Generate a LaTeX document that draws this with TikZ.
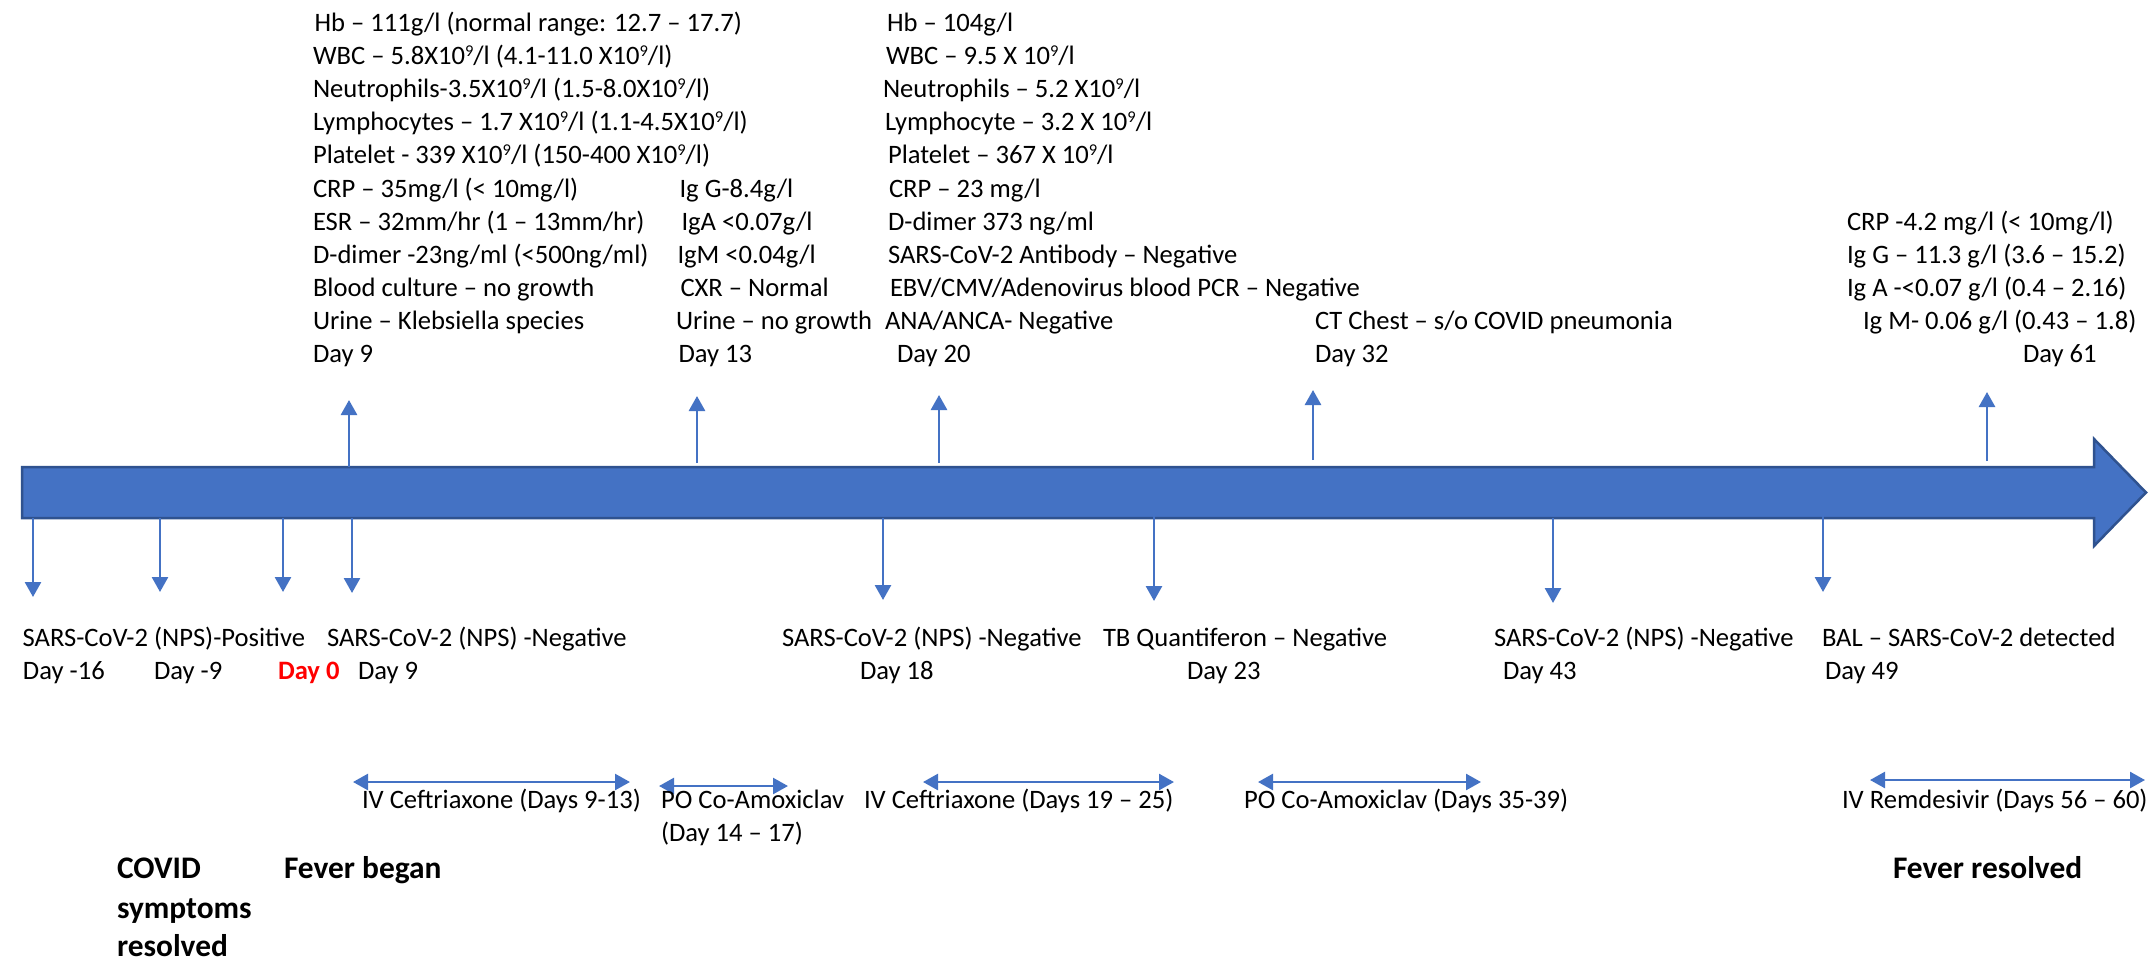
\documentclass[tikz,border=0pt]{standalone}
\usepackage{fontspec}
\setmainfont{Carlito}
\usetikzlibrary{arrows.meta}
\definecolor{tlblue}{HTML}{4472C4}
\definecolor{tledge}{HTML}{2F528F}
\definecolor{tlred}{HTML}{FF0000}
\newcommand{\regfont}{\fontsize{26.6}{33}\selectfont}
\newcommand{\boldfont}{\fontsize{31.4}{39}\selectfont\bfseries}
\newcommand{\sq}{\raisebox{8.5pt}{\fontsize{16.5}{16.5}\selectfont 9}}
\tikzset{
  lab/.style={anchor=base west, inner sep=0pt, outer sep=0pt, font=\regfont},
  blab/.style={anchor=base west, inner sep=0pt, outer sep=0pt, font=\boldfont},
  arr/.style={draw=tlblue, line width=2.7pt, -{Triangle[width=16pt,length=15pt]}},
  darr/.style={draw=tlblue, line width=2.5pt, {Triangle[width=16pt,length=15pt]}-{Triangle[width=16pt,length=15pt]}},
}
\begin{document}
\begin{tikzpicture}[x=1pt,y=-1pt]
\useasboundingbox (0,0) rectangle (2156,962);
\fill[white] (0,0) rectangle (2156,962);

% timeline bar
\draw[fill=tlblue, draw=tledge, line width=2.5pt, line join=miter]
  (22,467) -- (2094,467) -- (2094,439) -- (2146,492.5) -- (2094,546) -- (2094,518) -- (22,518) -- cycle;

% up arrows
\coordinate (u9a) at (349,467);   \coordinate (u9b) at (349,400);
\coordinate (u13a) at (697,463);  \coordinate (u13b) at (697,396);
\coordinate (u20a) at (939,463);  \coordinate (u20b) at (939,395);
\coordinate (u32a) at (1313,460); \coordinate (u32b) at (1313,390);
\coordinate (u61a) at (1987,461); \coordinate (u61b) at (1987,392);
\draw[arr] (u9a) -- (u9b);
\draw[arr] (u13a) -- (u13b);
\draw[arr] (u20a) -- (u20b);
\draw[arr] (u32a) -- (u32b);
\draw[arr] (u61a) -- (u61b);

% down arrows
\coordinate (dm16a) at (33,518);  \coordinate (dm16b) at (33,597);
\coordinate (dm9a) at (160,518);  \coordinate (dm9b) at (160,592);
\coordinate (d0a) at (283,518);   \coordinate (d0b) at (283,592);
\coordinate (d9a) at (352,518);   \coordinate (d9b) at (352,593);
\coordinate (d18a) at (883,518);  \coordinate (d18b) at (883,600);
\coordinate (d23a) at (1154,516); \coordinate (d23b) at (1154,601);
\coordinate (d43a) at (1553,518); \coordinate (d43b) at (1553,603);
\coordinate (d49a) at (1823,516); \coordinate (d49b) at (1823,592);
\draw[arr] (dm16a) -- (dm16b);
\draw[arr] (dm9a) -- (dm9b);
\draw[arr] (d0a) -- (d0b);
\draw[arr] (d9a) -- (d9b);
\draw[arr] (d18a) -- (d18b);
\draw[arr] (d23a) -- (d23b);
\draw[arr] (d43a) -- (d43b);
\draw[arr] (d49a) -- (d49b);

% treatment double arrows
\coordinate (c1a) at (353,782);  \coordinate (c1b) at (630,782);
\coordinate (a1a) at (659,786);  \coordinate (a1b) at (788,786);
\coordinate (c2a) at (923,782);  \coordinate (c2b) at (1174,782);
\coordinate (a2a) at (1258,782); \coordinate (a2b) at (1481,782);
\coordinate (r1a) at (1870,780); \coordinate (r1b) at (2145,780);
\draw[darr] (c1a) -- (c1b);
\draw[darr] (a1a) -- (a1b);
\draw[darr] (c2a) -- (c2b);
\draw[darr] (a2a) -- (a2b);
\draw[darr] (r1a) -- (r1b);

% column 1 (Day 9 labs)
\node[lab] (k0) at (314.5,31.5) {Hb – 111g/l (normal range: 12.7 – 17.7)};
\node[lab] (k1) at (313,64.6) {WBC – 5.8X10\sq/l (4.1-11.0 X10\sq/l)};
\node[lab] (k2) at (313,97.7) {Neutrophils-3.5X10\sq/l (1.5-8.0X10\sq/l)};
\node[lab] (k3) at (313,130.8) {Lymphocytes – 1.7 X10\sq/l (1.1-4.5X10\sq/l)};
\node[lab] (k4) at (313,163.9) {Platelet - 339 X10\sq/l (150-400 X10\sq/l)};
\node[lab] (k5) at (313,197) {CRP – 35mg/l (< 10mg/l)};
\node[lab] (k6) at (313,230.1) {ESR – 32mm/hr (1 – 13mm/hr)};
\node[lab] (k7) at (313,263.2) {D-dimer -23ng/ml (<500ng/ml)};
\node[lab] (k8) at (313,296.3) {Blood culture – no growth};
\node[lab] (k9) at (313,329.4) {Urine – Klebsiella species};
\node[lab] (k10) at (313,362.5) {Day 9};

% column 2 (Day 13)
\node[lab] (m5) at (679.5,197) {Ig G-8.4g/l};
\node[lab] (m6) at (681.5,230.1) {IgA <0.07g/l};
\node[lab] (m7) at (677.5,263.2) {IgM <0.04g/l};
\node[lab] (m8) at (680.5,296.3) {CXR – Normal};
\node[lab] (m9) at (676,329.4) {Urine – no growth};
\node[lab] (m10) at (678.5,362.5) {Day 13};

% column 3 (Day 20)
\node[lab] (p0) at (887,31.5) {Hb – 104g/l};
\node[lab] (p1) at (886,64.6) {WBC – 9.5 X 10\sq/l};
\node[lab] (p2) at (883,97.7) {Neutrophils – 5.2 X10\sq/l};
\node[lab] (p3) at (885,130.8) {Lymphocyte – 3.2 X 10\sq/l};
\node[lab] (p4) at (888,163.9) {Platelet – 367 X 10\sq/l};
\node[lab] (p5) at (889,197) {CRP – 23 mg/l};
\node[lab] (p6) at (888,230.1) {D-dimer 373 ng/ml};
\node[lab] (p7) at (888,263.2) {SARS-CoV-2 Antibody – Negative};
\node[lab] (p8) at (890,296.3) {EBV/CMV/Adenovirus blood PCR – Negative};
\node[lab] (p9) at (885,329.4) {ANA/ANCA- Negative};
\node[lab] (p10) at (897,362.5) {Day 20};

% column 4 (Day 32)
\node[lab] (q9) at (1315,329.4) {CT Chest – s/o COVID pneumonia};
\node[lab] (q10) at (1315,362.5) {Day 32};

% column 5 (Day 61)
\node[lab] (s6) at (1847,230.1) {CRP -4.2 mg/l (< 10mg/l)};
\node[lab] (s7) at (1847,263.2) {Ig G – 11.3 g/l (3.6 – 15.2)};
\node[lab] (s8) at (1847,296.3) {Ig A -<0.07 g/l (0.4 – 2.16)};
\node[lab] (s9) at (1863,329.4) {Ig M- 0.06 g/l (0.43 – 1.8)};
\node[lab] (s10) at (2023,362.5) {Day 61};

% bottom events
\node[lab] (b1) at (22.7,646.7) {SARS-CoV-2 (NPS)-Positive};
\node[lab] (b1d) at (23,679.3) {Day -16};
\node[lab] (b2d) at (154,679.3) {Day -9};
\node[lab, font=\regfont\bfseries, text=tlred] (b3d) at (278,679.3) {Day 0};
\node[lab] (b4) at (327,646.7) {SARS-CoV-2 (NPS) -Negative};
\node[lab] (b4d) at (358,679.3) {Day 9};
\node[lab] (b5) at (782,646.7) {SARS-CoV-2 (NPS) -Negative};
\node[lab] (b5d) at (860,679.3) {Day 18};
\node[lab] (b6) at (1103,646.7) {TB Quantiferon – Negative};
\node[lab] (b6d) at (1187,679.3) {Day 23};
\node[lab] (b7) at (1494,646.7) {SARS-CoV-2 (NPS) -Negative};
\node[lab] (b7d) at (1503,679.3) {Day 43};
\node[lab] (b8) at (1822,646.7) {BAL – SARS-CoV-2 detected};
\node[lab] (b8d) at (1825,679.3) {Day 49};

% treatments
\node[lab] (t1) at (362,808.3) {IV Ceftriaxone (Days 9-13)};
\node[lab] (t2) at (661,808.3) {PO Co-Amoxiclav};
\node[lab] (t2b) at (661,841.7) {(Day 14 – 17)};
\node[lab] (t3) at (864,808.3) {IV Ceftriaxone (Days 19 – 25)};
\node[lab] (t4) at (1244,808.3) {PO Co-Amoxiclav (Days 35-39)};
\node[lab] (t5) at (1842,808.3) {IV Remdesivir (Days 56 – 60)};

% bold milestones
\node[blab] (f1) at (117,878.3) {COVID};
\node[blab] (f1b) at (117,918) {symptoms};
\node[blab] (f1c) at (117,956.7) {resolved};
\node[blab] (f2) at (284,878.3) {Fever began};
\node[blab] (f3) at (1893,878.3) {Fever resolved};
\end{tikzpicture}
\end{document}
